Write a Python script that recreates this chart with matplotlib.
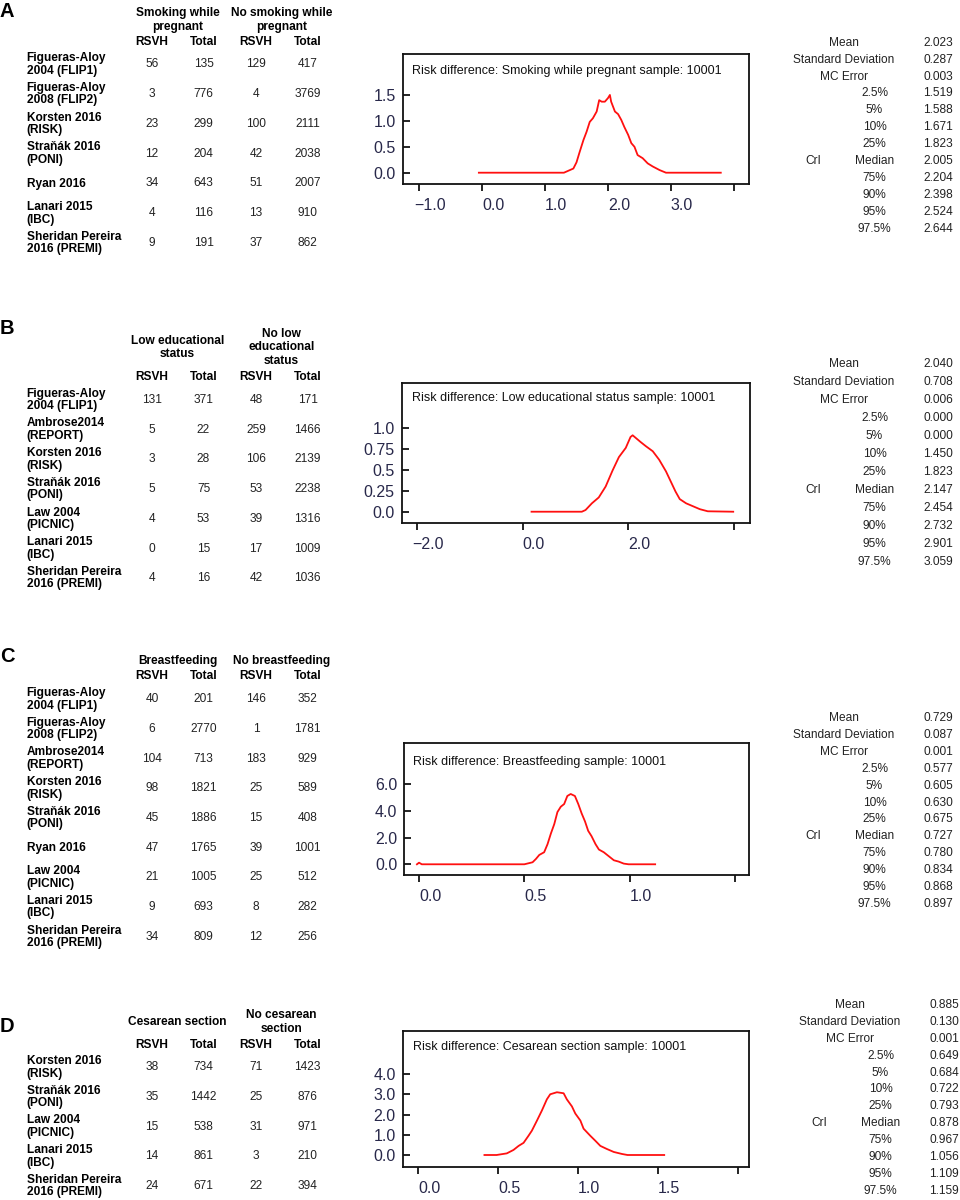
import matplotlib
matplotlib.use("Agg")
import matplotlib.pyplot as plt
from matplotlib.transforms import ScaledTranslation

plt.rcParams['font.family'] = ['Liberation Sans', 'DejaVu Sans']

W, H = 960, 1200

# ---------------- data ----------------
stat_labels = ["Mean", "Standard Deviation", "MC Error", "2.5%", "5%", "10%", "25%",
               "Median", "75%", "90%", "95%", "97.5%"]
col_labels = ["RSVH", "Total", "RSVH", "Total"]

# Panel A
A_header = ["Smoking while\npregnant", "No smoking while\npregnant"]
A_title = "Risk difference: Smoking while pregnant sample: 10001"
A_studies = ["Figueras-Aloy\n2004 (FLIP1)", "Figueras-Aloy\n2008 (FLIP2)", "Korsten 2016\n(RISK)",
             "Straňák 2016\n(PONI)", "Ryan 2016", "Lanari 2015\n(IBC)", "Sheridan Pereira\n2016 (PREMI)"]
A_exp_rsvh = [56, 3, 23, 12, 34, 4, 9]
A_exp_total = [135, 776, 299, 204, 643, 116, 191]
A_non_rsvh = [129, 4, 100, 42, 51, 13, 37]
A_non_total = [417, 3769, 2111, 2038, 2007, 910, 862]
A_stats = [2.023, 0.287, 0.003, 1.519, 1.588, 1.671, 1.823, 2.005, 2.204, 2.398, 2.524, 2.644]
A_dx = [-0.05, 1.30, 1.45, 1.50, 1.55, 1.61, 1.66, 1.71, 1.76, 1.82, 1.86, 1.90, 1.95, 2.00, 2.03,
        2.05, 2.11, 2.16, 2.21, 2.26, 2.32, 2.37, 2.42, 2.47, 2.55, 2.63, 2.71, 2.82, 2.92, 3.79]
A_dy = [0, 0, 0.08, 0.20, 0.40, 0.63, 0.79, 0.98, 1.05, 1.18, 1.40, 1.37, 1.37, 1.44, 1.50,
        1.37, 1.18, 1.13, 1.02, 0.88, 0.73, 0.57, 0.50, 0.34, 0.28, 0.18, 0.12, 0.05, 0, 0]
A_xticks = [-1, 0, 1, 2, 3, 4]
A_xticklabels = ["\u22121.0", "0.0", "1.0", "2.0", "3.0", ""]
A_yticks = [0, 0.5, 1.0, 1.5]
A_yticklabels = ["0.0", "0.5", "1.0", "1.5"]

# Panel B
B_header = ["Low educational\nstatus", "No low\neducational\nstatus"]
B_title = "Risk difference: Low educational status sample: 10001"
B_studies = ["Figueras-Aloy\n2004 (FLIP1)", "Ambrose2014\n(REPORT)", "Korsten 2016\n(RISK)",
             "Straňák 2016\n(PONI)", "Law 2004\n(PICNIC)", "Lanari 2015\n(IBC)", "Sheridan Pereira\n2016 (PREMI)"]
B_exp_rsvh = [131, 5, 3, 5, 4, 0, 4]
B_exp_total = [371, 22, 28, 75, 53, 15, 16]
B_non_rsvh = [48, 259, 106, 53, 39, 17, 42]
B_non_total = [171, 1466, 2139, 2238, 1316, 1009, 1036]
B_stats = [2.040, 0.708, 0.006, 0.000, 0.000, 1.450, 1.823, 2.147, 2.454, 2.732, 2.901, 3.059]
B_dx = [0.17, 1.12, 1.19, 1.31, 1.44, 1.57, 1.70, 1.82, 1.95, 2.04, 2.08, 2.23, 2.33, 2.46,
        2.58, 2.71, 2.80, 2.89, 2.97, 3.09, 3.22, 3.35, 3.50, 3.98]
B_dy = [0, 0, 0.02, 0.10, 0.17, 0.30, 0.49, 0.65, 0.76, 0.89, 0.91, 0.83, 0.78, 0.72,
        0.62, 0.48, 0.36, 0.24, 0.15, 0.10, 0.065, 0.03, 0.005, 0]
B_xticks = [-2, 0, 2, 4]
B_xticklabels = ["\u22122.0", "0.0", "2.0", ""]
B_yticks = [0, 0.25, 0.5, 0.75, 1.0]
B_yticklabels = ["0.0", "0.25", "0.5", "0.75", "1.0"]

# Panel C
C_header = ["Breastfeeding", "No breastfeeding"]
C_title = "Risk difference: Breastfeeding sample: 10001"
C_studies = ["Figueras-Aloy\n2004 (FLIP1)", "Figueras-Aloy\n2008 (FLIP2)", "Ambrose2014\n(REPORT)",
             "Korsten 2016\n(RISK)", "Straňák 2016\n(PONI)", "Ryan 2016", "Law 2004\n(PICNIC)",
             "Lanari 2015\n(IBC)", "Sheridan Pereira\n2016 (PREMI)"]
C_exp_rsvh = [40, 6, 104, 98, 45, 47, 21, 9, 34]
C_exp_total = [201, 2770, 713, 1821, 1886, 1765, 1005, 693, 809]
C_non_rsvh = [146, 1, 183, 25, 15, 39, 25, 8, 12]
C_non_total = [352, 1781, 929, 589, 408, 1001, 512, 282, 256]
C_stats = [0.729, 0.087, 0.001, 0.577, 0.605, 0.630, 0.675, 0.727, 0.780, 0.834, 0.868, 0.897]
C_dx = [-0.01, 0.0, 0.013, 0.50, 0.539, 0.555, 0.571, 0.594, 0.61, 0.626, 0.642, 0.657, 0.673,
        0.689, 0.704, 0.72, 0.74, 0.756, 0.772, 0.788, 0.803, 0.819, 0.838, 0.854, 0.877,
        0.901, 0.925, 0.948, 0.972, 0.995, 1.121]
C_dy = [0, 0.12, 0, 0, 0.15, 0.4, 0.7, 0.9, 1.5, 2.3, 3.0, 3.9, 4.3,
        4.5, 5.1, 5.25, 5.1, 4.5, 3.8, 3.2, 2.5, 2.1, 1.5, 1.1, 0.9,
        0.6, 0.3, 0.2, 0.05, 0, 0]
C_xticks = [0, 0.5, 1.0, 1.5]
C_xticklabels = ["0.0", "0.5", "1.0", ""]
C_yticks = [0, 2, 4, 6]
C_yticklabels = ["0.0", "2.0", "4.0", "6.0"]

# Panel D
D_header = ["Cesarean section", "No cesarean\nsection"]
D_title = "Risk difference: Cesarean section sample: 10001"
D_studies = ["Korsten 2016\n(RISK)", "Straňák 2016\n(PONI)", "Law 2004\n(PICNIC)",
             "Lanari 2015\n(IBC)", "Sheridan Pereira\n2016 (PREMI)"]
D_exp_rsvh = [38, 35, 15, 14, 24]
D_exp_total = [734, 1442, 538, 861, 671]
D_non_rsvh = [71, 25, 31, 3, 22]
D_non_total = [1423, 876, 971, 210, 394]
D_stats = [0.885, 0.130, 0.001, 0.649, 0.684, 0.722, 0.793, 0.878, 0.967, 1.056, 1.109, 1.159]
D_dx = [0.414, 0.49, 0.554, 0.596, 0.628, 0.659, 0.69, 0.711, 0.743, 0.774, 0.805, 0.826,
        0.868, 0.91, 0.93, 0.962, 0.983, 1.015, 1.035, 1.077, 1.109, 1.14, 1.18, 1.224,
        1.276, 1.31, 1.54]
D_dy = [0, 0, 0.08, 0.25, 0.45, 0.6, 0.95, 1.2, 1.7, 2.2, 2.75, 3.0,
        3.1, 3.05, 2.75, 2.4, 2.05, 1.7, 1.3, 0.95, 0.7, 0.45, 0.3, 0.15,
        0.05, 0, 0]
D_xticks = [0, 0.5, 1.0, 1.5, 2.0]
D_xticklabels = ["0.0", "0.5", "1.0", "1.5", ""]
D_yticks = [0, 1, 2, 3, 4]
D_yticklabels = ["0.0", "1.0", "2.0", "3.0", "4.0"]

# ---------------- layout ----------------
fig = plt.figure(figsize=(W / 100, H / 100), dpi=100)
fig.patch.set_facecolor('white')


def P(x, y):
    return x / W, 1 - y / H


panels = [
    dict(letter="A", letter_base=16.7, header=A_header, header_y=[20, 20], col_y=42.3,
         row_y0=64.3, row_step=29.8, studies=A_studies,
         cols=[A_exp_rsvh, A_exp_total, A_non_rsvh, A_non_total],
         box=(403, 54, 749, 184), xlim=(-1.254, 4.238), ylim=(-0.218, 2.29),
         dx=A_dx, dy=A_dy, title=A_title, title_xy=(412, 71),
         xt=A_xticks, xtl=A_xticklabels, yt=A_yticks, ytl=A_yticklabels,
         stats=A_stats, st_y0=42.7, st_step=16.9, st_dx=0),
    dict(letter="B", letter_base=334, header=B_header, header_y=[347.8, 347.5], col_y=377.3,
         row_y0=400, row_step=29.7, studies=B_studies,
         cols=[B_exp_rsvh, B_exp_total, B_non_rsvh, B_non_total],
         box=(401.7, 383.3, 750, 523.3), xlim=(-2.283, 4.297), ylim=(-0.138, 1.529),
         dx=B_dx, dy=B_dy, title=B_title, title_xy=(411.7, 398.3),
         xt=B_xticks, xtl=B_xticklabels, yt=B_yticks, ytl=B_yticklabels,
         stats=B_stats, st_y0=364, st_step=18.0, st_dx=0),
    dict(letter="C", letter_base=661.7, header=C_header, header_y=[660.7, 660.7], col_y=676,
         row_y0=699.3, row_step=29.7, studies=C_studies,
         cols=[C_exp_rsvh, C_exp_total, C_non_rsvh, C_non_total],
         box=(404.3, 742.7, 749.3, 875), xlim=(-0.070, 1.568), ylim=(-0.80, 9.08),
         dx=C_dx, dy=C_dy, title=C_title, title_xy=(412.7, 761.7),
         xt=C_xticks, xtl=C_xticklabels, yt=C_yticks, ytl=C_yticklabels,
         stats=C_stats, st_y0=718, st_step=16.9, st_dx=0),
    dict(letter="D", letter_base=1031.7, header=D_header, header_y=[1021.7, 1022], col_y=1045,
         row_y0=1067.3, row_step=29.7, studies=D_studies,
         cols=[D_exp_rsvh, D_exp_total, D_non_rsvh, D_non_total],
         box=(402.7, 1030.7, 749.3, 1166.7), xlim=(-0.098, 2.073), ylim=(-0.578, 6.14),
         dx=D_dx, dy=D_dy, title=D_title, title_xy=(412.7, 1046.7),
         xt=D_xticks, xtl=D_xticklabels, yt=D_yticks, ytl=D_yticklabels,
         stats=D_stats, st_y0=1005, st_step=16.9, st_dx=6),
]

col_x = [152, 203.5, 256, 307.5]
head_x = [177.5, 281.5]
name_x = 26.7
FS = 8.6
ST = 8.6
tick_col = '#28284a'

for p in panels:
    # panel letter
    fig.text(*P(0, p['letter_base']), p['letter'], fontsize=14.5, fontweight='bold',
             ha='left', va='baseline')
    # group headers
    for hx, hy, txt in zip(head_x, p['header_y'], p['header']):
        fig.text(*P(hx, hy), txt, fontsize=FS, fontweight='bold', ha='center', va='center',
                 linespacing=1.12)
    # column headers
    for cx, lab in zip(col_x, col_labels):
        fig.text(*P(cx, p['col_y']), lab, fontsize=FS, fontweight='bold', ha='center', va='center')
    # rows
    for i, name in enumerate(p['studies']):
        y = p['row_y0'] + i * p['row_step']
        fig.text(*P(name_x, y), name, fontsize=FS, fontweight='bold', ha='left', va='center',
                 linespacing=1.05)
        for cx, col in zip(col_x, p['cols']):
            fig.text(*P(cx, y), str(col[i]), fontsize=FS, ha='center', va='center', color='#222222')

    # density plot
    x0, y0, x1, y1 = p['box']
    ax = fig.add_axes([x0 / W, 1 - y1 / H, (x1 - x0) / W, (y1 - y0) / H])
    ax.plot(p['dx'], p['dy'], color='#ff1010', lw=1.3)
    ax.set_xlim(*p['xlim'])
    ax.set_ylim(*p['ylim'])
    ax.set_xticks(p['xt'])
    ax.set_xticklabels(p['xtl'])
    ax.set_yticks(p['yt'])
    ax.set_yticklabels(p['ytl'])
    ax.tick_params(axis='x', direction='out', length=5, width=1.2, pad=5,
                   labelsize=11.5, labelcolor=tick_col)
    ax.tick_params(axis='y', direction='in', length=5, width=1.2, pad=5,
                   labelsize=11.5, labelcolor=tick_col)
    offset = ScaledTranslation(0.11, 0, fig.dpi_scale_trans)
    for lab in ax.get_xticklabels():
        lab.set_transform(lab.get_transform() + offset)
    for s in ax.spines.values():
        s.set_linewidth(1.3)
        s.set_color('#111111')
    tx, ty = p['title_xy']
    fig.text(*P(tx, ty), p['title'], fontsize=9.0, ha='left', va='center', color='#111111')

    # stats table
    dxs = p['st_dx']
    for i, (lab, val) in enumerate(zip(stat_labels, p['stats'])):
        y = p['st_y0'] + i * p['st_step']
        lx = 843.5 + dxs if i < 3 else 874.5 + dxs
        fig.text(*P(lx, y), lab, fontsize=ST, ha='center', va='center', color='#222222')
        fig.text(*P(953 + dxs, y), f"{val:.3f}", fontsize=ST, ha='right', va='center',
                 color='#222222')
    fig.text(*P(813 + dxs, p['st_y0'] + 7 * p['st_step']), "CrI", fontsize=ST,
             ha='center', va='center', color='#222222')

fig.savefig("out.png", dpi=100, facecolor='white')
